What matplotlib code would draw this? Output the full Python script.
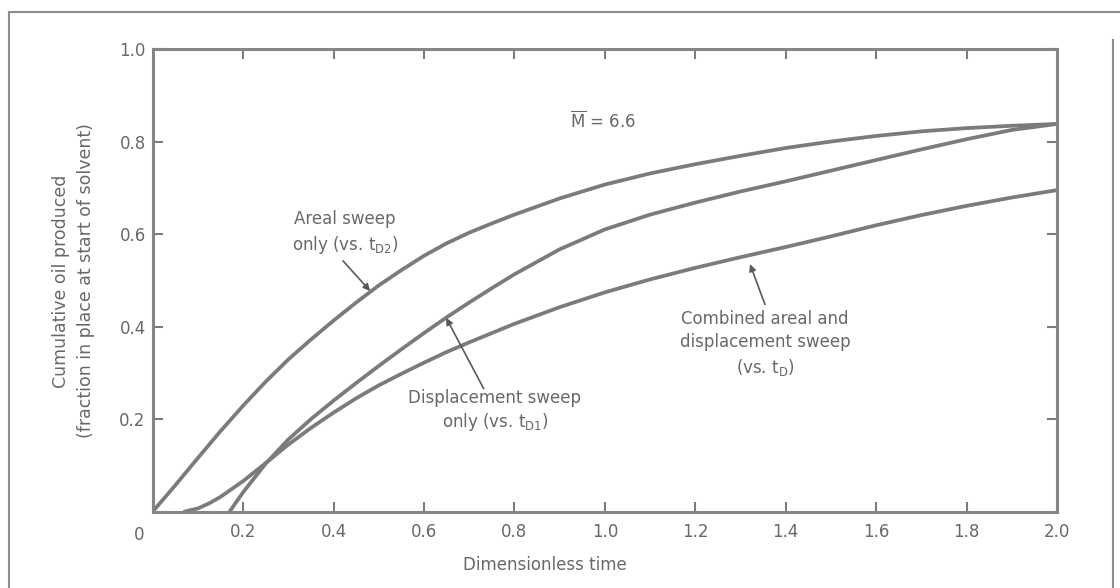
import numpy as np
import matplotlib
matplotlib.use("Agg")
import matplotlib.pyplot as plt
from matplotlib.lines import Line2D

plt.rcParams["font.family"] = ["DejaVu Sans"]
plt.rcParams["mathtext.fontset"] = "dejavusans"
plt.rcParams["mathtext.default"] = "regular"

areal_t = [0.0, 0.05, 0.10, 0.15, 0.20, 0.25, 0.30, 0.35, 0.40, 0.45, 0.50, 0.55, 0.60,
           0.65, 0.70, 0.75, 0.80, 0.90, 1.00, 1.10, 1.20, 1.30, 1.40, 1.50, 1.60, 1.70,
           1.80, 1.90, 2.0]
areal_np = [0.0, 0.057, 0.116, 0.174, 0.229, 0.281, 0.329, 0.372, 0.413, 0.452, 0.489,
            0.522, 0.553, 0.580, 0.603, 0.623, 0.642, 0.677, 0.707, 0.731, 0.751, 0.769,
            0.786, 0.800, 0.812, 0.822, 0.829, 0.834, 0.838]

displ_t = [0.17, 0.20, 0.25, 0.30, 0.35, 0.40, 0.45, 0.50, 0.55, 0.60, 0.65, 0.70, 0.75,
           0.80, 0.90, 1.00, 1.10, 1.20, 1.30, 1.40, 1.50, 1.60, 1.70, 1.80, 1.90, 2.0]
displ_np = [0.0, 0.042, 0.104, 0.156, 0.200, 0.240, 0.278, 0.315, 0.351, 0.386, 0.420,
            0.452, 0.483, 0.513, 0.567, 0.610, 0.642, 0.668, 0.692, 0.714, 0.737, 0.760,
            0.783, 0.805, 0.825, 0.838]

comb_t = [0.07, 0.10, 0.125, 0.15, 0.20, 0.25, 0.30, 0.35, 0.40, 0.45, 0.50, 0.55, 0.60,
          0.65, 0.70, 0.80, 0.90, 1.00, 1.10, 1.20, 1.30, 1.40, 1.50, 1.60, 1.70, 1.80,
          1.90, 2.0]
comb_np = [0.0, 0.007, 0.018, 0.032, 0.066, 0.105, 0.145, 0.181, 0.214, 0.245, 0.273,
           0.298, 0.322, 0.345, 0.366, 0.406, 0.442, 0.474, 0.502, 0.527, 0.550, 0.572,
           0.595, 0.619, 0.641, 0.661, 0.679, 0.695]

x_ticks = [0.2, 0.4, 0.6, 0.8, 1.0, 1.2, 1.4, 1.6, 1.8, 2.0]
y_ticks = [0.2, 0.4, 0.6, 0.8, 1.0]

line_c = "#7b7b7b"
text_c = "#686868"
fs = 12

fig = plt.figure(figsize=(11.2, 5.88), dpi=100)
ax = fig.add_axes([0.1363, 0.1298, 0.8075, 0.7869])

for t, np_ in [(areal_t, areal_np), (displ_t, displ_np), (comb_t, comb_np)]:
    ax.plot(t, np_, color=line_c, lw=2.7, solid_capstyle="round", solid_joinstyle="round")

ax.set_xlim(0, 2.0)
ax.set_ylim(0, 1.0)
ax.set_xticks(x_ticks)
ax.set_xticklabels([f"{v:.1f}" for v in x_ticks])
ax.set_yticks(y_ticks)
ax.set_yticklabels([f"{v:.1f}" for v in y_ticks])
ax.tick_params(direction="in", length=7, width=1.5, color=line_c, labelcolor=text_c,
               labelsize=fs, top=True, right=True)
ax.tick_params(axis="x", pad=8)
ax.tick_params(axis="y", pad=5)
for s in ax.spines.values():
    s.set_color("#858585")
    s.set_linewidth(2.2)

ax.text(-0.03, -0.03, "0", ha="center", va="top", fontsize=fs, color=text_c)

ax.set_xlabel("Dimensionless time", fontsize=fs, color=text_c)
ax.xaxis.set_label_coords(0.434, -0.095)
fig.text(73.5 / 1120, 1 - 281 / 588,
         "Cumulative oil produced\n(fraction in place at start of solvent)",
         rotation=90, ha="center", va="center", fontsize=12.5, color=text_c,
         linespacing=1.45)

ax.text(0.923, 0.843, r"$\overline{M}$ = 6.6", ha="left", va="center",
        fontsize=fs, color=text_c)

arrow = dict(arrowstyle="-|>", color="#5a5a5a", lw=1.2, mutation_scale=10,
             shrinkA=0, shrinkB=0)
ax.text(0.425, 0.602, "Areal sweep\nonly (vs. t$_{D2}$)", ha="center", va="center",
        fontsize=fs, color=text_c, linespacing=1.38)
ax.annotate("", xy=(0.481, 0.477), xytext=(0.421, 0.542), arrowprops=arrow)

ax.text(0.757, 0.217, "Displacement sweep\nonly (vs. t$_{D1}$)", ha="center",
        va="center", fontsize=fs, color=text_c, linespacing=1.26)
ax.annotate("", xy=(0.649, 0.419), xytext=(0.732, 0.266), arrowprops=arrow)

ax.text(1.354, 0.363, "Combined areal and\ndisplacement sweep\n(vs. t$_{D}$)",
        ha="center", va="center", fontsize=fs, color=text_c, linespacing=1.38)
ax.annotate("", xy=(1.321, 0.535), xytext=(1.354, 0.448), arrowprops=arrow)

# outer frame of the scanned figure (open at the bottom)
W, H = 1120.0, 588.0
frame = dict(color="#8c8c8c", lw=1.5, transform=fig.transFigure)
fig.add_artist(Line2D([9 / W, 9 / W], [0, 1 - 12 / H], **frame))
fig.add_artist(Line2D([9 / W, 1], [1 - 12 / H, 1 - 12 / H], **frame))
fig.add_artist(Line2D([1113 / W, 1113 / W], [0, 1 - 40 / H], **frame))

fig.savefig("out.png", dpi=100, facecolor="white")
